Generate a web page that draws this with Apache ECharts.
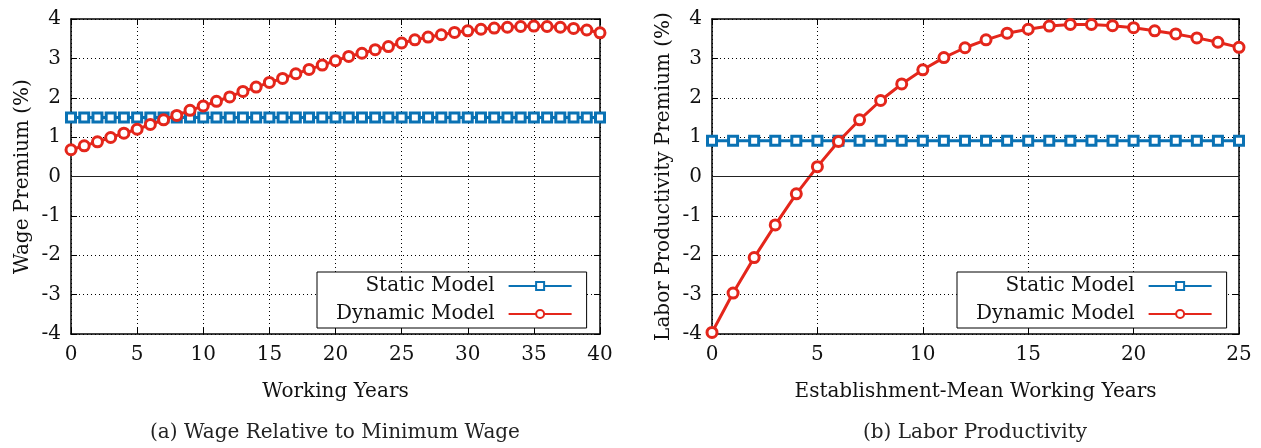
<!DOCTYPE html>
<html>
<head>
<meta charset="utf-8">
<script src="https://cdn.jsdelivr.net/npm/echarts@6/dist/echarts.min.js"></script>
<style>
  html, body { margin: 0; padding: 0; background: #fff; }
  #main { width: 1261px; height: 448px; }
</style>
</head>
<body>
<div id="main"></div>
<script>
// (a) wage relative to minimum wage
var wageYears = [0,1,2,3,4,5,6,7,8,9,10,11,12,13,14,15,16,17,18,19,20,21,22,23,24,25,26,27,28,29,30,31,32,33,34,35,36,37,38,39,40];
var wageStatic = [1.5,1.5,1.5,1.5,1.5,1.5,1.5,1.5,1.5,1.5,1.5,1.5,1.5,1.5,1.5,1.5,1.5,1.5,1.5,1.5,1.5,1.5,1.5,1.5,1.5,1.5,1.5,1.5,1.5,1.5,1.5,1.5,1.5,1.5,1.5,1.5,1.5,1.5,1.5,1.5,1.5];
var wageDynamic = [0.68,0.78,0.88,0.99,1.10,1.20,1.32,1.44,1.55,1.68,1.79,1.91,2.02,2.16,2.27,2.39,2.49,2.61,2.72,2.83,2.94,3.05,3.13,3.22,3.30,3.39,3.47,3.54,3.60,3.66,3.70,3.74,3.77,3.79,3.81,3.82,3.81,3.79,3.76,3.72,3.65];

// (b) labor productivity
var prodYears = [0,1,2,3,4,5,6,7,8,9,10,11,12,13,14,15,16,17,18,19,20,21,22,23,24,25];
var prodStatic = [0.91,0.91,0.91,0.91,0.91,0.91,0.91,0.91,0.91,0.91,0.91,0.91,0.91,0.91,0.91,0.91,0.91,0.91,0.91,0.91,0.91,0.91,0.91,0.91,0.91,0.91];
var prodDynamic = [-3.96,-2.96,-2.06,-1.23,-0.44,0.25,0.89,1.44,1.93,2.35,2.71,3.02,3.27,3.47,3.64,3.74,3.82,3.86,3.86,3.83,3.78,3.70,3.62,3.52,3.41,3.28];

var seriesNames = ['Static Model', 'Dynamic Model'];
var yTicks = [-4, 4, 1];

var FONT = 'DejaVu Serif';
var FS = 20;
var BLUE = '#0a72b4';
var RED = '#e4261b';

function pairs(xs, ys) {
  var out = [];
  for (var i = 0; i < xs.length; i++) out.push([xs[i], ys[i]]);
  return out;
}

function bottomAxis(idx, max, name) {
  return {
    type: 'value', gridIndex: idx, min: 0, max: max, interval: 5,
    name: name, nameLocation: 'middle', nameGap: 48,
    nameTextStyle: { fontFamily: FONT, fontSize: FS, color: '#111' },
    axisLine: { show: true, onZero: false, lineStyle: { color: '#000', width: 1.5 } },
    axisTick: { show: true, inside: true, length: 6, lineStyle: { color: '#000' } },
    axisLabel: { fontFamily: FONT, fontSize: FS, color: '#111', margin: 11 },
    splitLine: { show: true, lineStyle: { color: '#000', type: [1, 3], width: 1 } }
  };
}
function topAxis(idx, max) {
  return {
    type: 'value', gridIndex: idx, position: 'top', min: 0, max: max, interval: 5,
    axisLine: { show: true, onZero: false, lineStyle: { color: '#000', width: 1.5 } },
    axisTick: { show: true, inside: true, length: 6, lineStyle: { color: '#000' } },
    axisLabel: { show: false }, splitLine: { show: false }
  };
}
function leftAxis(idx, name) {
  return {
    type: 'value', gridIndex: idx, min: yTicks[0], max: yTicks[1], interval: yTicks[2],
    name: name, nameLocation: 'middle', nameGap: 38,
    nameTextStyle: { fontFamily: FONT, fontSize: FS, color: '#111' },
    axisLine: { show: true, onZero: false, lineStyle: { color: '#000', width: 1.5 } },
    axisTick: { show: true, inside: true, length: 6, lineStyle: { color: '#000' } },
    axisLabel: { fontFamily: FONT, fontSize: FS, color: '#111', margin: 10 },
    splitLine: { show: true, lineStyle: { color: '#000', type: [1, 3], width: 1 } }
  };
}
function rightAxis(idx) {
  return {
    type: 'value', gridIndex: idx, position: 'right', min: yTicks[0], max: yTicks[1], interval: yTicks[2],
    axisLine: { show: true, onZero: false, lineStyle: { color: '#000', width: 1.5 } },
    axisTick: { show: true, inside: true, length: 6, lineStyle: { color: '#000' } },
    axisLabel: { show: false }, splitLine: { show: false }
  };
}

function staticSeries(idx, xs, ys) {
  return {
    name: seriesNames[0], type: 'line', xAxisIndex: idx * 2, yAxisIndex: idx * 2,
    data: pairs(xs, ys), symbol: 'rect', symbolSize: 9, showAllSymbol: true,
    lineStyle: { color: BLUE, width: 3 },
    itemStyle: { color: '#fff', borderColor: BLUE, borderWidth: 3 },
    animation: false, z: 3,
    markLine: {
      silent: true, symbol: 'none', label: { show: false }, animation: false,
      lineStyle: { color: '#222', type: 'solid', width: 1.2 },
      data: [{ yAxis: 0 }]
    }
  };
}
function dynamicSeries(idx, xs, ys) {
  return {
    name: seriesNames[1], type: 'line', xAxisIndex: idx * 2, yAxisIndex: idx * 2,
    data: pairs(xs, ys), symbol: 'circle', symbolSize: 10, showAllSymbol: true,
    lineStyle: { color: RED, width: 3 },
    itemStyle: { color: '#fff', borderColor: RED, borderWidth: 3 },
    animation: false, z: 4
  };
}

function legendAt(left) {
  return {
    data: seriesNames, orient: 'vertical', align: 'right',
    left: left, top: 272, itemWidth: 63, itemHeight: 10, itemGap: 8,
    padding: [4, 14, 4, 19],
    borderColor: '#000', borderWidth: 1, backgroundColor: '#fff',
    textStyle: { fontFamily: FONT, fontSize: FS, color: '#111', padding: [0, 9, 0, 0] },
    selectedMode: false
  };
}

var chart = echarts.init(document.getElementById('main'), null, { renderer: 'canvas' });
var option = {
  animation: false,
  grid: [
    { left: 71, top: 19, width: 529, height: 315, containLabel: false },
    { left: 712, top: 19, width: 527, height: 315, containLabel: false }
  ],
  xAxis: [
    bottomAxis(0, 40, 'Working Years'), topAxis(0, 40),
    bottomAxis(1, 25, 'Establishment-Mean Working Years'), topAxis(1, 25)
  ],
  yAxis: [
    leftAxis(0, 'Wage Premium (%)'), rightAxis(0),
    leftAxis(1, 'Labor Productivity Premium (%)'), rightAxis(1)
  ],
  legend: [legendAt(317), legendAt(957)],
  series: [
    staticSeries(0, wageYears, wageStatic),
    dynamicSeries(0, wageYears, wageDynamic),
    staticSeries(1, prodYears, prodStatic),
    dynamicSeries(1, prodYears, prodDynamic)
  ],
  graphic: [
    { type: 'text', x: 335, y: 433, style: { text: '(a) Wage Relative to Minimum Wage', font: FS + 'px "' + FONT + '"', fill: '#222', textAlign: 'center', textVerticalAlign: 'middle' } },
    { type: 'text', x: 975, y: 433, style: { text: '(b) Labor Productivity', font: FS + 'px "' + FONT + '"', fill: '#222', textAlign: 'center', textVerticalAlign: 'middle' } }
  ]
};
chart.setOption(option);
</script>
</body>
</html>
